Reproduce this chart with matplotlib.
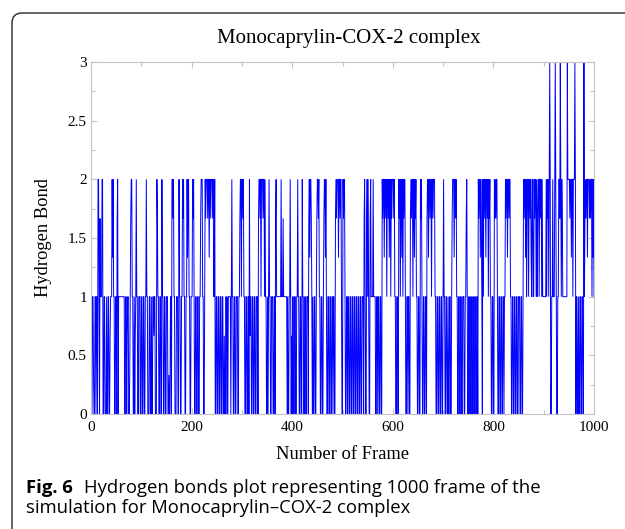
import numpy as np
import matplotlib
matplotlib.use("Agg")
import matplotlib.pyplot as plt
from matplotlib.patches import FancyBboxPatch
from matplotlib.ticker import MultipleLocator

# 竖线很密，关掉路径简化，否则大部分跳变会被吃掉
plt.rcParams["path.simplify"] = False

# 每个字符代表一帧的氢键数（a..d 为图中出现的分数值）
level_codes = {"0": 0.0, "1": 1.0, "2": 2.0, "3": 3.0,
               "a": 1 / 3, "b": 2 / 3, "c": 4 / 3, "d": 5 / 3}

# 1000 帧，每行 50 帧
hbond_blocks = [
    "0011a00110 1102210d11 1220011000 1001100b11 12c2110011",
    "0d20111111 1111110011 0b1100a1d2 2110010b12 1100111001",
    "1001100112 1100011001 0011b11000 2d11001100 2110011001",
    "1100a00110 22d2110001 1100211001 12d2110011 2c22110011",
    "12d2100110 0110011d22 2110012d22 2d22c22d22 2d21120011",
    "0011001100 1100b00110 1011111012 1100110011 10011d2212",
    "2d21100110 01102b1100 1100110011 10d22d2122 2d22121100",
    "1012110011 100110d211 1111111211 1d11111110 10011210b0",
    "1100110011 2110011002 1100110011 10d2c22d10 10011001d2",
    "2d21100110 01d22c2100 1100110011 01100d2d22 2c22d22100",
    "2d22100110 1100110011 0011001100 1100110011 10d2100d21",
    "2100d21111 2111100110 110011002d 22c2d22122 d2c2212d22",
    "2d21100110 02d2122c21 2d22100110 1100d2d221 22c2d21100",
    "11002d2100 1100110d22 c22d22122d 2221100110 0110011001",
    "2110011001 0011001d22 2c22d21100 1100110011 10011d2100",
    "1100110011 0011001102 d22c2d1021 22d2c22d21 2d21100110",
    "02d2d22100 1100110011 0112d22c22 d221100110 0110011001",
    "1100110012 d22c21d221 22d2c12211 2d22121d22 122d212111",
    "1111212d21 2320011211 1232100112 2d3212d111 1111113222",
    "2d22c22122 2320110010 0110011003 1d2d22c222 d2d2212c21",
]

title = "Monocaprylin-COX-2 complex"
x_label = "Number of Frame"
y_label = "Hydrogen Bond"
caption_bold = "Fig. 6"
caption_line1 = "Hydrogen bonds plot representing 1000 frame of the"
caption_line2 = "simulation for Monocaprylin\u2013COX-2 complex"

hbond_str = "".join(hbond_blocks).replace(" ", "")
hbond = np.array([level_codes[c] for c in hbond_str])
frames = np.arange(1, len(hbond) + 1)

W, H = 625, 529
serif = ["Liberation Serif", "DejaVu Serif"]
sans = ["Open Sans", "DejaVu Sans"]
axis_grey = "#c4c4c4"

fig = plt.figure(figsize=(W / 100, H / 100), dpi=100)
fig.patch.set_facecolor("white")

# 外框（圆角，只露出左上）
frame_box = FancyBboxPatch((12 / 100, -0.5), 7.0, (H - 13) / 100 + 0.5,
                           boxstyle="round,pad=0,rounding_size=0.1",
                           transform=fig.dpi_scale_trans,
                           facecolor="none", edgecolor="#3a3a3a", lw=1.1)
fig.add_artist(frame_box)

ax = fig.add_axes([91 / W, 1 - 414 / H, (594 - 91) / W, (414 - 62) / H])
ax.plot(frames, hbond, color="#0000ff", lw=0.7, solid_joinstyle="miter")

ax.set_xlim(0, 1000)
ax.set_ylim(0, 3)
ax.xaxis.set_major_locator(MultipleLocator(200))
ax.xaxis.set_minor_locator(MultipleLocator(100))
ax.yaxis.set_major_locator(MultipleLocator(0.5))
ax.yaxis.set_minor_locator(MultipleLocator(0.25))
ax.yaxis.set_major_formatter(plt.FuncFormatter(lambda v, p: f"{v:g}"))
ax.tick_params(which="both", direction="in", top=True, right=True,
               color=axis_grey, width=0.8)
ax.tick_params(which="major", length=4.5)
ax.tick_params(which="minor", length=3)
ax.tick_params(axis="x", pad=5)
ax.tick_params(axis="y", pad=3)
for lab in ax.get_xticklabels() + ax.get_yticklabels():
    lab.set_family(serif)
    lab.set_fontsize(11)
for sp in ax.spines.values():
    sp.set_color(axis_grey)
    sp.set_linewidth(0.8)

fig.text(349 / W, 1 - 43 / H, title, family=serif, fontsize=15,
         ha="center", va="baseline")
fig.text(343 / W, 1 - 459 / H, x_label, family=serif, fontsize=13.3,
         ha="center", va="baseline")
fig.text(43 / W, 1 - 238 / H, y_label, family=serif, fontsize=13.3,
         rotation=90, ha="center", va="center")

# 图注
fig.canvas.draw()
rend = fig.canvas.get_renderer()
cap_size = 13.3
t_bold = fig.text(26 / W, 1 - 493 / H, caption_bold, family=sans,
                  fontsize=cap_size, weight="bold", ha="left", va="baseline")
bb = t_bold.get_window_extent(renderer=rend)
fig.text((bb.x1 + 11) / W, 1 - 493 / H, caption_line1, family=sans,
         fontsize=cap_size, ha="left", va="baseline")
fig.text(26 / W, 1 - 513 / H, caption_line2, family=sans,
         fontsize=cap_size, ha="left", va="baseline")

fig.savefig("out.png", dpi=100)
